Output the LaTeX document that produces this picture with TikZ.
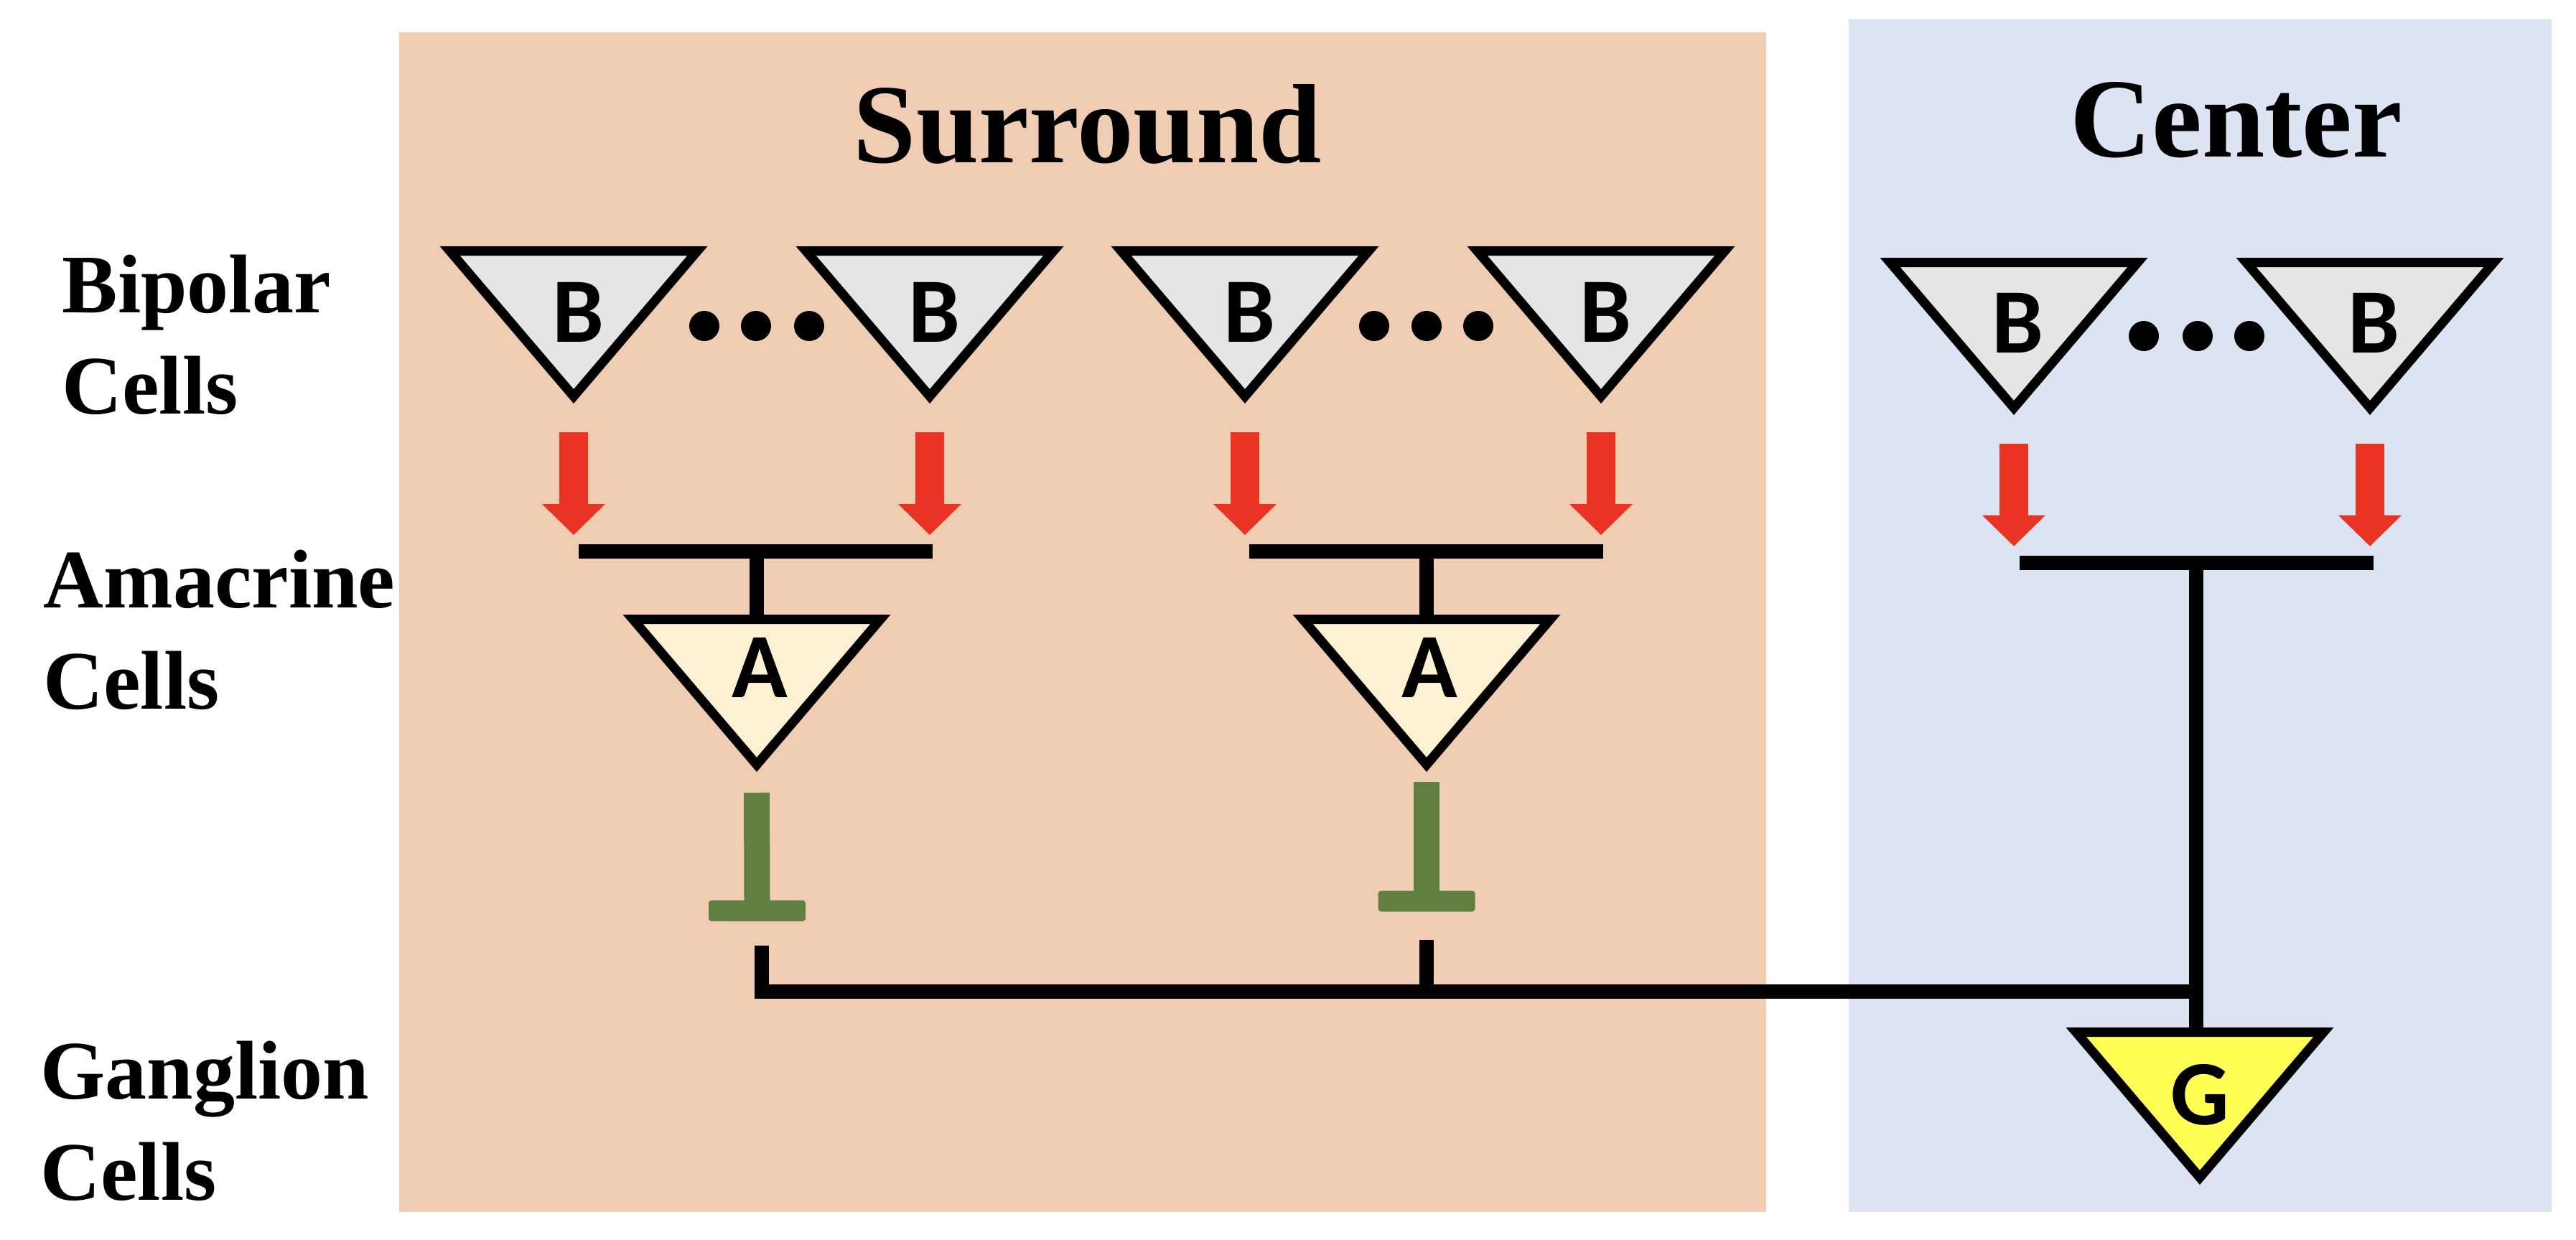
\documentclass[tikz,border=0pt]{standalone}
\usepackage{fontspec}
\setmainfont{Liberation Serif}
\newfontfamily\cellfont{Carlito}
\usetikzlibrary{arrows.meta}
\definecolor{surroundbg}{HTML}{F0CDB2}
\definecolor{centerbg}{HTML}{DCE3F2}
\definecolor{bipolargray}{HTML}{E5E5E5}
\definecolor{amacrinecream}{HTML}{FCF1D2}
\definecolor{ganglionyellow}{HTML}{FFFF55}
\definecolor{excitered}{HTML}{E93424}
\definecolor{inhibgreen}{HTML}{5F8040}

% name, x, top, fill, letter, label depth, label shift
\newcommand{\celltri}[7]{%
  \draw[soma, fill=#4] (#2-1.724,-#3-0.065) -- (#2+1.724,-#3-0.065) -- (#2,-#3-2.09) -- cycle;
  \coordinate (#1-top) at (#2,-#3);
  \coordinate (#1-tip) at (#2,-#3-2.19);
  \node[letter] (#1) at (#2+#7,-#3-#6) {#5};}

\begin{document}
\begin{tikzpicture}[
  field/.style={fill=#1, inner sep=0, outer sep=0, anchor=north west},
  title/.style={font=\fontsize{44.7}{50}\selectfont\bfseries, inner sep=0, anchor=base},
  rowlabel/.style={font=\fontsize{33}{40}\selectfont\bfseries, align=left, inner sep=0, anchor=base west},
  soma/.style={draw=black, line width=0.13cm, line join=miter},
  letter/.style={font=\cellfont\bfseries\fontsize{36.5}{40}\selectfont, inner sep=0},
  dendrite/.style={fill=black, inner sep=0, outer sep=0, minimum height=0.2cm, minimum width=4.93cm},
  synapse/.style={fill=inhibgreen, inner sep=0, outer sep=0, rounded corners=0.04cm,
                  minimum width=1.35cm, minimum height=0.29cm},
  excite/.style={draw=excitered, line width=0.40cm,
                 -{Triangle[length=0.43cm, width=0.88cm, line width=0pt]}},
  inhibit/.style={draw=inhibgreen, line width=0.36cm},
  wire/.style={draw=black, line width=0.195cm}
]
  \useasboundingbox (0,0) rectangle (35.88,-17.26);

  \node[field=surroundbg, minimum width=19.04cm, minimum height=16.43cm] (surround) at (5.56,-0.45) {};
  \node[field=centerbg, minimum width=9.79cm, minimum height=16.61cm] (center) at (25.75,-0.27) {};
  \node[title] (surroundtitle) at (15.15,-2.26) {Surround};
  \node[title] (centertitle) at (31.15,-2.18) {Center};

  % anchor=base is the baseline of the second line
  \node[rowlabel] (bipolar) at (0.86,-5.76) {Bipolar\\Cells};
  \node[rowlabel] (amacrine) at (0.60,-9.87) {Amacrine\\Cells};
  \node[rowlabel] (ganglion) at (0.56,-16.71) {Ganglion\\Cells};

  % bipolar cells
  \celltri{b1}{7.99}{3.43}{bipolargray}{B}{0.92}{0.06}
  \celltri{b2}{12.95}{3.43}{bipolargray}{B}{0.92}{0.06}
  \celltri{b3}{17.34}{3.43}{bipolargray}{B}{0.92}{0.06}
  \celltri{b4}{22.30}{3.43}{bipolargray}{B}{0.92}{0.06}
  \celltri{b5}{28.05}{3.59}{bipolargray}{B}{0.91}{0.05}
  \celltri{b6}{33.01}{3.59}{bipolargray}{B}{0.91}{0.05}
  \foreach \x in {9.81,10.53,11.27,19.14,19.87,20.59}
    \fill (\x,-4.54) circle (0.21);
  \foreach \x in {29.86,30.61,31.33}
    \fill (\x,-4.68) circle (0.21);

  % amacrine and ganglion cells
  \celltri{a1}{10.54}{8.56}{amacrinecream}{A}{0.74}{0.04}
  \celltri{a2}{19.87}{8.56}{amacrinecream}{A}{0.74}{0.04}
  \celltri{g}{30.64}{14.31}{ganglionyellow}{G}{0.94}{0}

  \node[dendrite] (bar1) at (10.52,-7.68) {};
  \node[dendrite] (bar2) at (19.865,-7.68) {};
  \node[dendrite, minimum height=0.206cm] (barc) at (30.59,-7.84) {};

  \draw[excite] ([yshift=-0.40cm]b1-tip) -- ([yshift=0.13cm]b1-tip |- bar1.north);
  \draw[excite] ([yshift=-0.40cm]b2-tip) -- ([yshift=0.13cm]b2-tip |- bar1.north);
  \draw[excite] ([yshift=-0.40cm]b3-tip) -- ([yshift=0.13cm]b3-tip |- bar2.north);
  \draw[excite] ([yshift=-0.40cm]b4-tip) -- ([yshift=0.13cm]b4-tip |- bar2.north);
  \draw[excite] ([yshift=-0.40cm]b5-tip) -- ([yshift=0.13cm]b5-tip |- barc.north);
  \draw[excite] ([yshift=-0.40cm]b6-tip) -- ([yshift=0.13cm]b6-tip |- barc.north);

  \draw[wire] (bar1.south -| a1-top) -- (a1-top);
  \draw[wire] (bar2.south -| a2-top) -- (a2-top);
  \draw[wire] (barc.south) -- (barc.south |- g-top);

  \node[synapse] (s1) at (10.545,-12.685) {};
  \node[synapse] (s2) at (19.87,-12.55) {};
  \draw[inhibit] ([yshift=-0.29cm]a1-tip) -- (s1.north);
  \draw[inhibit] ([yshift=-0.14cm]a2-tip) -- (s2.north);

  \coordinate (out1) at (10.61,-13.17);
  \coordinate (out2) at (19.87,-13.09);
  \coordinate (join) at (30.58,-13.81);
  \draw[wire] (out1) |- (join);
  \draw[wire] (out2) -- (out2 |- join);
\end{tikzpicture}
\end{document}
